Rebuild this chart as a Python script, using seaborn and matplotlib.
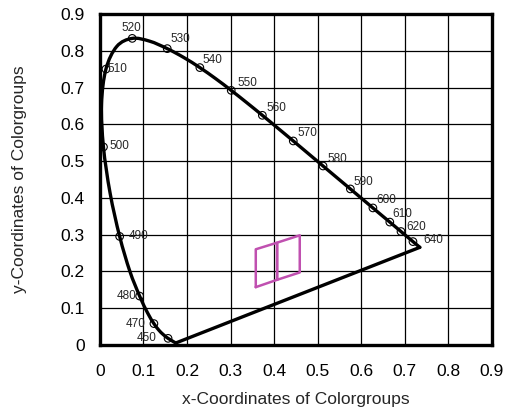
import numpy as np
import pandas as pd
import matplotlib
matplotlib.use("Agg")
import matplotlib.pyplot as plt
from matplotlib.path import Path
from matplotlib.patches import PathPatch
import seaborn as sns

# CIE 1931 spectral locus (nm, x, y)
locus_nm = [380, 450, 455, 460, 465, 470, 475, 480, 485, 490, 495, 500, 505, 510,
            515, 520, 525, 530, 535, 540, 545, 550, 555, 560, 565, 570, 575, 580,
            585, 590, 595, 600, 605, 610, 615, 620, 630, 640, 650, 700]
locus_x = [0.1741, 0.1566, 0.1510, 0.1440, 0.1355, 0.1241, 0.1096, 0.0913, 0.0687,
           0.0454, 0.0235, 0.0082, 0.0039, 0.0139, 0.0389, 0.0743, 0.1142, 0.1547,
           0.1929, 0.2296, 0.2658, 0.3016, 0.3373, 0.3731, 0.4087, 0.4441, 0.4788,
           0.5125, 0.5448, 0.5752, 0.6029, 0.6270, 0.6482, 0.6658, 0.6801, 0.6915,
           0.7079, 0.7190, 0.7260, 0.7347]
locus_y = [0.0050, 0.0177, 0.0227, 0.0297, 0.0399, 0.0578, 0.0868, 0.1327, 0.2007,
           0.2950, 0.4127, 0.5384, 0.6548, 0.7502, 0.8120, 0.8338, 0.8262, 0.8059,
           0.7816, 0.7543, 0.7243, 0.6923, 0.6589, 0.6245, 0.5896, 0.5547, 0.5202,
           0.4866, 0.4544, 0.4242, 0.3965, 0.3725, 0.3514, 0.3340, 0.3197, 0.3083,
           0.2920, 0.2809, 0.2740, 0.2653]

# labelled wavelengths
marked_nm = [450, 470, 480, 490, 500, 510, 520, 530, 540, 550, 560, 570, 580,
             590, 600, 610, 620, 640]
# label offsets in pixels (dx, dy) from the marker
label_dx = [-21, -18, -13, 19, 15.5, 11.5, -1, 13, 13, 16.5, 14.5, 14, 14,
            13.5, 13.5, 13, 15, 20]
label_dy = [0, 0, 0, 0, 1, 0, 10, 10, 8, 7.5, 7, 8, 7, 7, 8, 8, 4.6, 1.6]

# colour group bins (two quadrilaterals)
bin_a_x = [0.358, 0.358, 0.407, 0.407, 0.358]
bin_a_y = [0.157, 0.260, 0.278, 0.177, 0.157]
bin_b_x = [0.407, 0.407, 0.459, 0.459, 0.407]
bin_b_y = [0.177, 0.278, 0.298, 0.197, 0.177]

locus = pd.DataFrame({"nm": locus_nm, "x": locus_x, "y": locus_y})
marks = locus[locus["nm"].isin(marked_nm)].set_index("nm").loc[marked_nm].reset_index()
purple = locus.iloc[[0, -1]]


def smooth_path(xs, ys):
    # draw a smooth curve through the points (Catmull-Rom as cubic Bezier)
    p = np.column_stack([xs, ys])
    verts = [p[0]]
    codes = [Path.MOVETO]
    n = len(p)
    for i in range(n - 1):
        p0 = p[i - 1] if i > 0 else p[i]
        p3 = p[i + 2] if i + 2 < n else p[i + 1]
        c1 = p[i] + (p[i + 1] - p0) / 6
        c2 = p[i + 1] - (p3 - p[i]) / 6
        verts += [c1, c2, p[i + 1]]
        codes += [Path.CURVE4] * 3
    return Path(verts, codes)


sns.set_style("white")
plt.rcParams["font.family"] = ["Liberation Sans", "DejaVu Sans"]

fig = plt.figure(figsize=(5.07, 4.13), dpi=100)
ax = fig.add_axes([0.197, 0.165, 0.773, 0.801])

ax.add_patch(PathPatch(smooth_path(locus["x"], locus["y"]), fill=False,
                       edgecolor="black", lw=2.4, zorder=3, capstyle="round"))
sns.lineplot(data=purple, x="x", y="y", sort=False, color="black", lw=2.4,
             estimator=None, ax=ax, zorder=3)
sns.scatterplot(data=marks, x="x", y="y", marker="o", s=30, facecolor="none",
                edgecolor="black", linewidth=0.8, ax=ax, zorder=4)

for nm, x, y, dx, dy in zip(marks["nm"], marks["x"], marks["y"], label_dx, label_dy):
    ax.annotate(str(nm), (x, y), xytext=(dx, dy), textcoords="offset pixels",
                ha="center", va="center", fontsize=8.5, zorder=5)

magenta = "#c050b0"
ax.plot(bin_a_x, bin_a_y, color=magenta, lw=1.8, zorder=3)
ax.plot(bin_b_x, bin_b_y, color=magenta, lw=1.8, zorder=3)

ax.set_xlim(0, 0.9)
ax.set_ylim(0, 0.9)
ticks = [0, 0.1, 0.2, 0.3, 0.4, 0.5, 0.6, 0.7, 0.8, 0.9]
tick_labels = ["0", "0.1", "0.2", "0.3", "0.4", "0.5", "0.6", "0.7", "0.8", "0.9"]
ax.set_xticks(ticks)
ax.set_xticklabels(tick_labels)
ax.set_yticks(ticks)
ax.set_yticklabels(tick_labels)
ax.tick_params(axis="x", length=0, labelsize=12.5, pad=14, colors="black")
ax.tick_params(axis="y", length=0, labelsize=12.5, pad=11, colors="black")
ax.grid(True, color="black", lw=0.9)
ax.set_axisbelow(True)
for sp in ax.spines.values():
    sp.set_linewidth(2.4)
    sp.set_color("black")

ax.set_xlabel("x-Coordinates of Colorgroups", fontsize=12.5, labelpad=9)
ax.set_ylabel("y-Coordinates of Colorgroups", fontsize=12.5, labelpad=24)

fig.savefig("out.png", dpi=100)
